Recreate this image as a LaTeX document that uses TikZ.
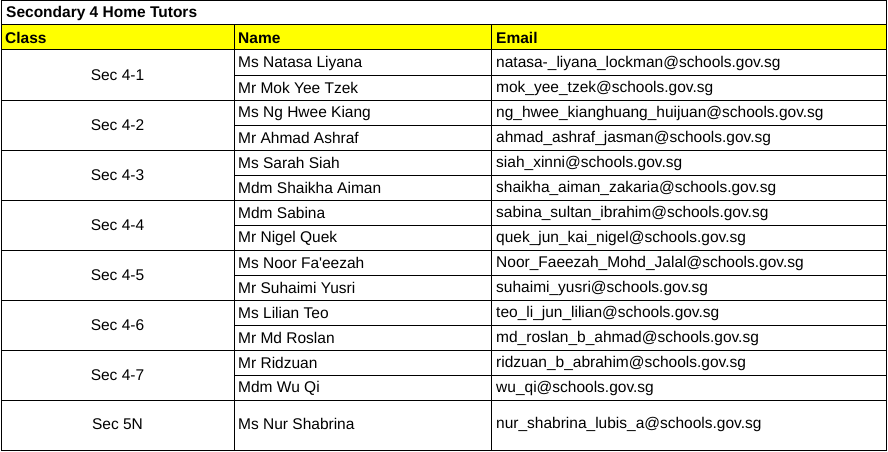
\documentclass[tikz,border=0pt]{standalone}
\usepackage{fontspec}
\setmainfont{Liberation Sans}[Ligatures=TeXOff]
\definecolor{hdryellow}{HTML}{FFFF00}
\begin{document}
\begin{tikzpicture}[x=1pt,y=-1pt,
  grid/.style={line width=1pt,black},
  celltext/.style={anchor=west,inner sep=0pt,font=\fontsize{15.5}{18}\selectfont,text=black},
  hdrtext/.style={anchor=west,inner sep=0pt,font=\fontsize{15.5}{18}\selectfont\bfseries,text=black},
  classtext/.style={anchor=center,inner sep=0pt,font=\fontsize{15.5}{18}\selectfont,text=black}]
\useasboundingbox (0,0) rectangle (888,452);
\fill[white] (0,0) rectangle (888,452);
% header fill
\fill[hdryellow] (1,25) rectangle (886,50);
% grid
\draw[grid] (1,1) rectangle (886,450);
\draw[grid] (1,25) -- (886,25);
\draw[grid] (1,50) -- (886,50);
\foreach \yy in {100,150,...,400} {\draw[grid] (1,\yy) -- (886,\yy);}
\foreach \yy in {75,125,...,375} {\draw[grid] (234,\yy) -- (886,\yy);}
\draw[grid] (234,25) -- (234,450);
\draw[grid] (491,25) -- (491,450);
% title and headers
\node[hdrtext] (title) at (6,13) {Secondary 4 Home Tutors};
\node[hdrtext] (hclass) at (5,38) {Class};
\node[hdrtext] (hname) at (238,38) {Name};
\node[hdrtext] (hemail) at (496,38) {Email};
% classes
\foreach \c [count=\i] in {Sec 4-1,Sec 4-2,Sec 4-3,Sec 4-4,Sec 4-5,Sec 4-6,Sec 4-7}
  {\node[classtext] (cls\i) at (117.5,{25+50*\i}) {\c};}
\node[classtext] (cls8) at (117.5,424) {Sec 5N};
% names
\foreach \n [count=\i] in {Ms Natasa Liyana,Mr Mok Yee Tzek,Ms Ng Hwee Kiang,Mr Ahmad Ashraf,Ms Sarah Siah,Mdm Shaikha Aiman,Mdm Sabina,Mr Nigel Quek,Ms Noor Fa'eezah,Mr Suhaimi Yusri,Ms Lilian Teo,Mr Md Roslan,Mr Ridzuan,Mdm Wu Qi}
  {\node[celltext] (nm\i) at (238,{38+25*(\i-1)+25}) {\n};}
\node[celltext] (nm15) at (238,424) {Ms Nur Shabrina};
% emails
\foreach \e [count=\i] in {natasa-\_liyana\_lockman@schools.gov.sg,mok\_yee\_tzek@schools.gov.sg,ng\_hwee\_kianghuang\_huijuan@schools.gov.sg,ahmad\_ashraf\_jasman@schools.gov.sg,siah\_xinni@schools.gov.sg,shaikha\_aiman\_zakaria@schools.gov.sg,sabina\_sultan\_ibrahim@schools.gov.sg,quek\_jun\_kai\_nigel@schools.gov.sg,Noor\_Faeezah\_Mohd\_Jalal@schools.gov.sg,suhaimi\_yusri@schools.gov.sg,teo\_li\_jun\_lilian@schools.gov.sg,md\_roslan\_b\_ahmad@schools.gov.sg,ridzuan\_b\_abrahim@schools.gov.sg,wu\_qi@schools.gov.sg}
  {\node[celltext] (em\i) at (496,{38+25*(\i-1)+25}) {\e};}
\node[celltext] (em15) at (496,424) {nur\_shabrina\_lubis\_a@schools.gov.sg};
\end{tikzpicture}
\end{document}
